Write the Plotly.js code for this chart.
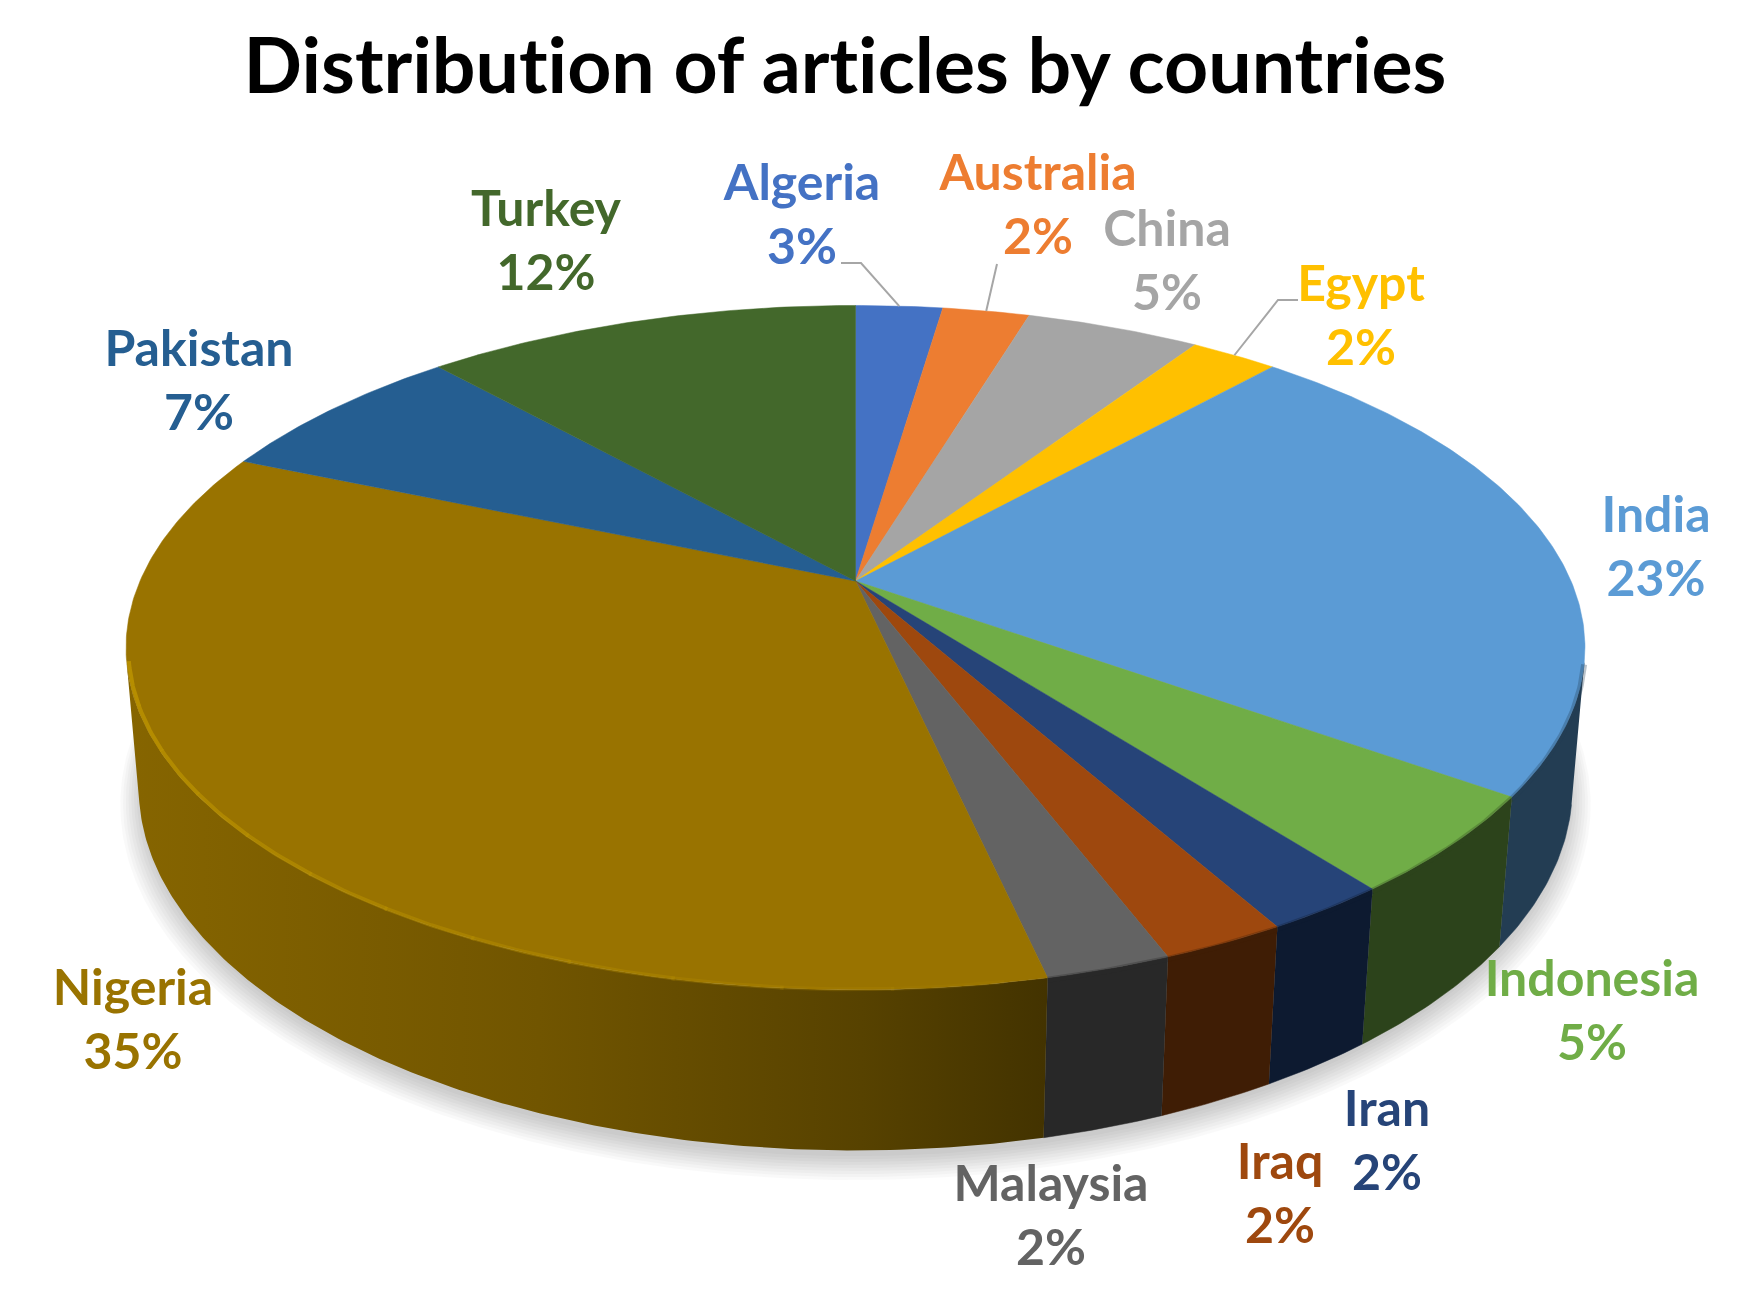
<!DOCTYPE html>
<html>
<head>
<meta charset="utf-8">
<script src="https://cdn.plot.ly/plotly-3.0.1.min.js"></script>
<style>
  body { margin: 0; background: #fff; }
  svg text { font-variant-ligatures: none !important; font-feature-settings: "liga" 0, "clig" 0, "dlig" 0 !important; }
</style>
</head>
<body>
<div id="chart" style="width:1742px;height:1295px"></div>
<script>
// article counts per country
const countries = ['Algeria', 'Australia', 'China', 'Egypt', 'India', 'Indonesia', 'Iran', 'Iraq', 'Malaysia', 'Nigeria', 'Pakistan', 'Turkey'];
const articles = [1, 1, 2, 1, 10, 2, 1, 1, 1, 15, 3, 5];
const percentLabels = ['3%', '2%', '5%', '2%', '23%', '5%', '2%', '2%', '2%', '35%', '7%', '12%'];

const topColors = ['#4472C4', '#ED7D31', '#A5A5A5', '#FFC000', '#5B9BD5', '#70AD47', '#264478', '#9E480E', '#636363', '#997300', '#255E91', '#43682B'];
const wallColors = ['#1b2e4e', '#5f3214', '#424242', '#664d00', '#233d53', '#2c431b', '#0d1a30', '#3f1d05', '#282828', '#4a3800', '#0f2539', '#1b2a11'];

// where the labels sit on the page
const labelX = [802, 1038, 1167, 1361, 1656, 1592, 1387, 1280, 1051, 133, 199, 546];
const labelY = [187, 177, 233, 288, 519, 983, 1113, 1166, 1188, 992, 353, 213];
const LINE_GAP = 64;

// perspective of the tilted disc
const CX = 855.5, CY = 581, W = 715.5, H = 329.2, K = 0.1948;
const DEPTH = 139, DEPTH_K = 0.017;

const total = articles.reduce((a, b) => a + b, 0);

function project(angle, r, z) {
    let u = Math.sin(angle) * r;
    let v = Math.cos(angle) * r;
    let den = 1 + K * v + DEPTH_K * z;
    return [CX + W * u / den, CY + (-H * v + DEPTH * z) / den];
}

function arc(a0, a1, r, z) {
    let pts = [];
    let n = Math.max(4, Math.ceil((a1 - a0) / 0.01));
    for (let i = 0; i <= n; i++) {
        pts.push(project(a0 + (a1 - a0) * i / n, r, z));
    }
    return pts;
}

function xs(pts) { return pts.map(p => p[0]); }
function ys(pts) { return pts.map(p => p[1]); }

let angles = [0];
articles.forEach((n, i) => angles.push(angles[i] + n / total * 2 * Math.PI));

// angle where the wall edge is tangent to the rim, on one side of the disc
function silhouetteAngle(from, to) {
    let prev = null;
    for (let a = from; a < to; a += 0.002) {
        let p0 = project(a - 0.001, 1, 0), p1 = project(a + 0.001, 1, 0);
        let top = project(a, 1, 0), bottom = project(a, 1, 1);
        let cross = (p1[0] - p0[0]) * (bottom[1] - top[1]) - (p1[1] - p0[1]) * (bottom[0] - top[0]);
        if (prev !== null && prev * cross < 0) return a;
        prev = cross;
    }
    return to;
}
const frontStart = silhouetteAngle(0.01, Math.PI - 0.01);
const frontEnd = silhouetteAngle(Math.PI + 0.01, 2 * Math.PI - 0.01);

let traces = [];

// soft shadow under the pie
for (let i = 0; i < 9; i++) {
    let pts = arc(0, 2 * Math.PI, 0.996 + i * 0.0038, 1.05 + i * 0.006);
    traces.push({
        x: xs(pts), y: ys(pts), mode: 'lines', fill: 'toself',
        fillcolor: 'rgba(0,0,0,0.024)', line: {width: 0}, hoverinfo: 'skip'
    });
}

// side walls, only the part facing the viewer
countries.forEach((name, i) => {
    let a0 = Math.max(angles[i], frontStart);
    let a1 = Math.min(angles[i + 1], frontEnd);
    if (a0 >= a1) return;
    let pts = arc(a0, a1, 1, 0).concat(arc(a0, a1, 1, 1).reverse());
    let t = {
        x: xs(pts), y: ys(pts), mode: 'lines', fill: 'toself',
        fillcolor: wallColors[i], line: {width: 0.5, color: wallColors[i]},
        name: name, hoverinfo: 'skip'
    };
    if (name === 'Nigeria') {
        t.fillgradient = {
            type: 'horizontal',
            start: 125, stop: 1046,
            colorscale: [[0, '#866500'], [0.45, '#715500'], [0.8, '#574200'], [1, '#433300']]
        };
        t.line = {width: 0};
    }
    traces.push(t);
});

// top faces
countries.forEach((name, i) => {
    let pts = [[CX, CY]].concat(arc(angles[i], angles[i + 1], 1, 0));
    pts.push([CX, CY]);
    traces.push({
        x: xs(pts), y: ys(pts), mode: 'lines', fill: 'toself',
        fillcolor: topColors[i], line: {width: 0.5, color: topColors[i]},
        name: name, text: percentLabels[i], hoverinfo: 'name+text'
    });
});

// blurred edge where the top meets the wall
countries.forEach((name, i) => {
    let a0 = Math.max(angles[i], frontStart);
    let a1 = Math.min(angles[i + 1], frontEnd);
    if (a0 >= a1 || name === 'Nigeria') return;
    let pts = arc(a0, a1, 1, 0.012);
    traces.push({
        x: xs(pts), y: ys(pts), mode: 'lines',
        line: {width: 6, color: wallColors[i]}, opacity: 0.3, hoverinfo: 'skip'
    });
});

// bevel highlight on the big slice, fading towards the front
const nigeria = countries.indexOf('Nigeria');
const fadeSteps = 12;
for (let i = 0; i < fadeSteps; i++) {
    let a0 = angles[nigeria] + 0.05;
    let from = a0 + (frontEnd - a0) * i / fadeSteps;
    let to = a0 + (frontEnd - a0) * (i + 1) / fadeSteps + 0.004;
    let pts = arc(from, to, 0.997, 0.006);
    traces.push({
        x: xs(pts), y: ys(pts), mode: 'lines',
        line: {width: 4, color: '#b89000'}, opacity: 0.12 + 0.075 * i, hoverinfo: 'skip'
    });
}

// leader lines from the small slices to their labels
const leaders = [
    {slice: 'Algeria', from: [[841, 263], [861, 263]]},
    {slice: 'Australia', from: [[997, 264]]},
    {slice: 'Egypt', from: [[1298, 300], [1278, 300]]}
];
leaders.forEach(l => {
    let i = countries.indexOf(l.slice);
    let end = project((angles[i] + angles[i + 1]) / 2, 1, 0);
    let pts = l.from.concat([end]);
    traces.push({
        x: xs(pts), y: ys(pts), mode: 'lines',
        line: {width: 2, color: '#a6a6a6'}, hoverinfo: 'skip'
    });
});

// data labels
const labelFont = {family: 'Lato, sans-serif', size: 50, weight: 700, color: topColors};
traces.push({
    x: labelX, y: labelY, mode: 'text', text: countries,
    textposition: 'middle center', textfont: labelFont, hoverinfo: 'skip'
});
traces.push({
    x: labelX, y: labelY.map(v => v + LINE_GAP), mode: 'text', text: percentLabels,
    textposition: 'middle center', textfont: labelFont, hoverinfo: 'skip'
});

Plotly.newPlot('chart', traces, {
    width: 1742,
    height: 1295,
    margin: {l: 0, r: 0, t: 0, b: 0},
    paper_bgcolor: '#fff',
    plot_bgcolor: '#fff',
    showlegend: false,
    title: {
        text: 'Distribution of articles by countries',
        x: 845 / 1742, xanchor: 'center',
        y: 1 - 66 / 1295, yanchor: 'middle',
        font: {family: 'Lato, sans-serif', size: 77, weight: 700, color: '#000'}
    },
    xaxis: {range: [0, 1742], visible: false, fixedrange: true},
    yaxis: {range: [1295, 0], visible: false, fixedrange: true}
}, {displayModeBar: false});
</script>
</body>
</html>
